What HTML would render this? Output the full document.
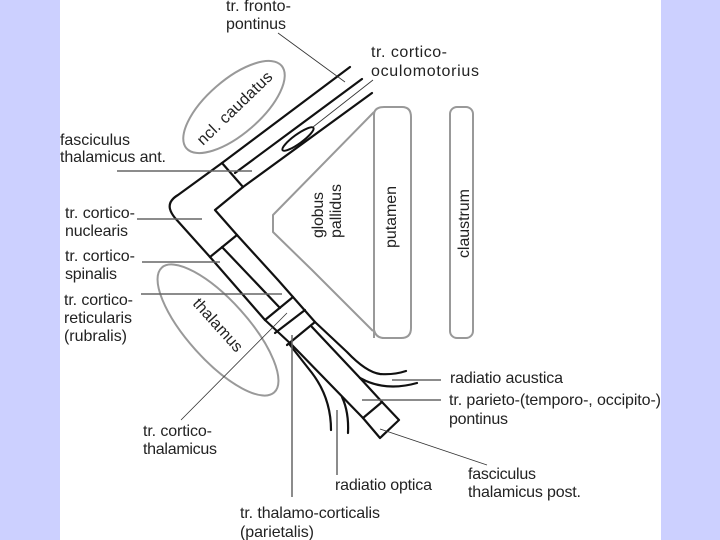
<!DOCTYPE html>
<html>
<head>
<meta charset="utf-8">
<style>
html,body{margin:0;padding:0;background:#ccd0ff;width:720px;height:540px;overflow:hidden}
svg{display:block}
text{font-family:"Liberation Sans",sans-serif;font-size:16px;fill:#222}
.k{fill:none;stroke:#111;stroke-width:2.2;stroke-linejoin:round;stroke-linecap:round}
.g{fill:none;stroke:#999;stroke-width:2;stroke-linejoin:round}
.l{fill:none;stroke:#666;stroke-width:1.5}
.t{fill:none;stroke:#333;stroke-width:.8}
</style>
</head>
<body>
<svg width="720" height="540" viewBox="0 0 720 540" xmlns="http://www.w3.org/2000/svg">
<rect x="0" y="0" width="720" height="540" fill="#ccd0ff"/>
<rect x="60" y="0" width="601" height="540" fill="#fff"/>

<!-- grey structures -->
<ellipse class="g" cx="234" cy="107" rx="63" ry="27" transform="rotate(-41 234 107)"/>
<ellipse class="g" cx="218" cy="330" rx="84" ry="30" transform="rotate(48 218 330)"/>
<path class="g" d="M374 112 L273 215 L273 232 L312 270 L373 331"/>
<path class="g" d="M374 338 L374 115 Q374 107 384 107 L402 107 Q411 107 411 117 L411 328 Q411 338 401 338 L384 338 Q376 338 374 330"/>
<rect class="g" x="450" y="107" width="23" height="231" rx="7" ry="7"/>

<!-- black tract outlines -->
<path class="k" d="M350 67 L222 163 L178 195 Q168 201 170 209 Q171 213 175 218 L210 257 L265 320 L292 345 L363 418 L380 438 L399 420 L382 402 L360 378 L312 327"/>
<path class="k" d="M372 93 L243 187 L215 210 L237 235 L278 280 L315 322 L347 352 Q366 372 380 374 Q394 375 406 371"/>
<path class="k" d="M362 79 L235 173"/>
<path class="k" d="M222 163 L243 187"/>
<path class="k" d="M210 257 L237 235"/>
<path class="k" d="M222 247 L280 308"/>
<path class="k" d="M265 320 L293 297"/>
<path class="k" d="M275 333 L305 310"/>
<path class="k" d="M287 345 L315 322"/>
<path class="k" d="M363 418 L382 402"/>
<path class="k" d="M290 345 L312 373 Q331 398 331 430"/>
<path class="k" d="M342 397 Q349 412 348 433"/>
<path class="k" d="M360 378 Q385 392 417 383"/>
<ellipse cx="298" cy="139" rx="19" ry="4.5" transform="rotate(-36 298 139)" fill="none" stroke="#111" stroke-width="2"/>

<!-- grey leaders -->
<path class="l" d="M117 171 H252 M137 219 H202 M142 262 H220 M141 294 H282 M292 335 V497 M337 410 V475 M392 380 H441 M362 400 H441"/>
<!-- thin leaders -->
<path class="t" d="M278 33 L345 82 M373 80 L313 127 M181 420 L287 313 M380 429 L487 465"/>

<!-- labels -->
<text x="226" y="11" textLength="65">tr. fronto-</text>
<text x="226" y="29" textLength="60">pontinus</text>
<text x="371" y="57" textLength="76">tr. cortico-</text>
<text x="371" y="76" textLength="108">oculomotorius</text>
<text x="60" y="145" textLength="70">fasciculus</text>
<text x="60" y="162" textLength="106">thalamicus ant.</text>
<text x="65" y="218" textLength="70">tr. cortico-</text>
<text x="65" y="236" textLength="63">nuclearis</text>
<text x="65" y="261" textLength="70">tr. cortico-</text>
<text x="65" y="279" textLength="52">spinalis</text>
<text x="64" y="305" textLength="69">tr. cortico-</text>
<text x="64" y="323" textLength="68">reticularis</text>
<text x="64" y="341" textLength="63">(rubralis)</text>
<text x="143" y="436" textLength="69">tr. cortico-</text>
<text x="143" y="454" textLength="74">thalamicus</text>
<text x="240" y="518" textLength="140">tr. thalamo-corticalis</text>
<text x="240" y="537" textLength="74">(parietalis)</text>
<text x="335" y="490" textLength="97">radiatio optica</text>
<text x="450" y="383" textLength="113">radiatio acustica</text>
<text x="449" y="405" textLength="212">tr. parieto-(temporo-, occipito-)</text>
<text x="449" y="424" textLength="59">pontinus</text>
<text x="468" y="479" textLength="68">fasciculus</text>
<text x="468" y="497" textLength="113">thalamicus post.</text>
<text transform="translate(203 146) rotate(-44)" textLength="98">ncl. caudatus</text>
<text transform="translate(192 304) rotate(48)" textLength="66">thalamus</text>
<text transform="translate(323 238) rotate(-90)" textLength="46">globus</text>
<text transform="translate(341 238) rotate(-90)" textLength="54">pallidus</text>
<text transform="translate(396 248) rotate(-90)" textLength="62">putamen</text>
<text transform="translate(469 258) rotate(-90)" textLength="69">claustrum</text>
</svg>
</body>
</html>
